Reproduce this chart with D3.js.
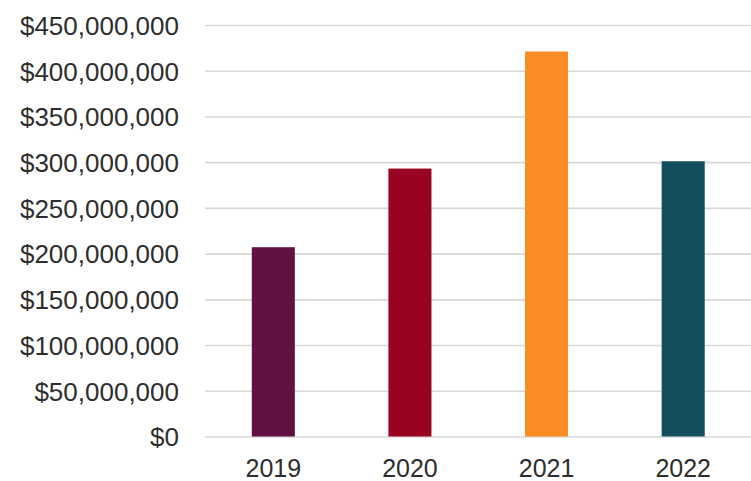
<!DOCTYPE html>
<html>
<head>
<meta charset="utf-8">
<script src="https://cdn.jsdelivr.net/npm/d3@7"></script>
<style>
  html, body { margin: 0; padding: 0; background: #fff; }
  svg { display: block; }
  .tick text { font-family: "Liberation Sans", Arial, sans-serif; fill: #2e2e2e; }
</style>
</head>
<body>
<svg id="chart" width="751" height="481"></svg>
<script>
// Annual totals by year
const years = ["2019", "2020", "2021", "2022"];
const amounts = [207000000, 293000000, 421000000, 301000000];
const barColors = ["#621041", "#990321", "#fa8c26", "#124e5d"];
const yTicks = [0, 50000000, 100000000, 150000000, 200000000, 250000000, 300000000, 350000000, 400000000, 450000000];

const width = 751, height = 481;
const margin = { top: 25, right: 0, bottom: 44.5, left: 205 };

const svg = d3.select("#chart");

const x = d3.scaleBand()
  .domain(years)
  .range([margin.left, width + 0.5])
  .paddingInner(0.685)
  .paddingOuter(0.3425);

const y = d3.scaleLinear()
  .domain([0, 450000000])
  .range([height - margin.bottom, margin.top]);

const fmt = v => "$" + d3.format(",")(v);

// Horizontal gridlines with dollar labels
const yAxis = svg.append("g")
  .attr("transform", `translate(${margin.left},0)`)
  .call(d3.axisLeft(y).tickValues(yTicks).tickFormat(fmt).tickSize(0).tickPadding(26));
yAxis.select(".domain").remove();
yAxis.selectAll(".tick text")
  .style("font-size", "26px")
  .attr("dy", "0.36em");
yAxis.selectAll(".tick").insert("line", "text")
  .attr("x1", 0).attr("x2", width - margin.left)
  .attr("stroke", "#d9d9d9").attr("stroke-width", 1.6);

// Bars
svg.append("g").selectAll("rect")
  .data(years)
  .join("rect")
  .attr("x", d => x(d))
  .attr("width", x.bandwidth())
  .attr("y", (d, i) => y(amounts[i]))
  .attr("height", (d, i) => y(0) - y(amounts[i]))
  .attr("fill", (d, i) => barColors[i]);

// Year labels
const xAxis = svg.append("g")
  .attr("transform", `translate(0,${y(0)})`)
  .call(d3.axisBottom(x).tickSize(0).tickPadding(23));
xAxis.select(".domain").remove();
xAxis.selectAll(".tick text")
  .style("font-size", "25px");
</script>
</body>
</html>
